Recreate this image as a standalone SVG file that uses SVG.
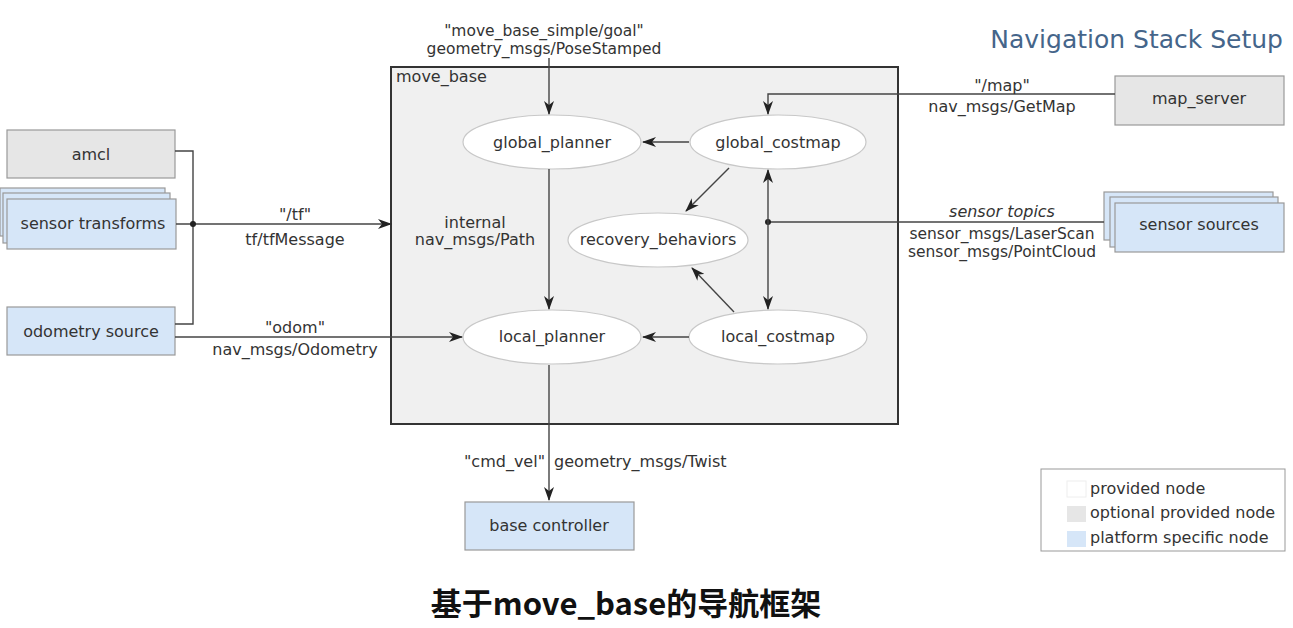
<svg xmlns="http://www.w3.org/2000/svg" width="1293" height="628" viewBox="0 0 1293 628">
<style>
text{font-family:"DejaVu Sans","Liberation Sans",sans-serif;font-size:16px;fill:#333}
.c{text-anchor:middle}
.s{font-size:15.5px}
.box{stroke:#999;stroke-width:1.2}
.opt{fill:#e6e6e6}
.plat{fill:#d6e6f8}
.ell{fill:#fff;stroke:#c8c8c8;stroke-width:1.2}
.ln{fill:none;stroke:#444;stroke-width:1.4}
.arr{marker-end:url(#ah)}
</style>
<defs>
<marker id="ah" markerUnits="userSpaceOnUse" markerWidth="14" markerHeight="10" viewBox="0 0 14 10" refX="13" refY="5" orient="auto">
<path d="M0,0 L14,5 L0,10 L4,5 z" fill="#222"/>
</marker>
</defs>
<rect width="1293" height="628" fill="#fff"/>
<text x="1283" y="48" style="font-size:25px;fill:#45658a;text-anchor:end">Navigation Stack Setup</text>

<g id="move_base">
<rect x="391" y="67" width="507" height="357" fill="#f0f0f0" stroke="#333" stroke-width="2"/>
<text x="396" y="82">move_base</text>
</g>

<g id="amcl">
<rect class="box opt" x="7" y="130" width="168" height="48"/>
<text class="c" x="91" y="160">amcl</text>
</g>
<g id="sensor_transforms">
<rect class="box plat" x="0" y="188" width="165" height="48"/>
<rect class="box plat" x="3" y="193" width="167" height="50"/>
<rect class="box plat" x="7" y="199" width="169" height="50"/>
<text class="c" x="93" y="229">sensor transforms</text>
</g>
<g id="odometry_source">
<rect class="box plat" x="7" y="307" width="168" height="48"/>
<text class="c" x="91" y="337">odometry source</text>
</g>
<g id="map_server">
<rect class="box opt" x="1115" y="76" width="169" height="49"/>
<text class="c" x="1199" y="104">map_server</text>
</g>
<g id="sensor_sources">
<rect class="box plat" x="1104" y="192" width="169" height="48"/>
<rect class="box plat" x="1110" y="197" width="168" height="50"/>
<rect class="box plat" x="1115" y="203" width="169" height="49"/>
<text class="c" x="1199" y="230">sensor sources</text>
</g>
<g id="base_controller">
<rect class="box plat" x="465" y="502" width="169" height="48"/>
<text class="c" x="549" y="531">base controller</text>
</g>

<g id="global_planner">
<ellipse class="ell" cx="552" cy="142" rx="89" ry="27"/>
<text class="c" x="552" y="148">global_planner</text>
</g>
<g id="global_costmap">
<ellipse class="ell" cx="778" cy="142" rx="88" ry="27"/>
<text class="c" x="778" y="148">global_costmap</text>
</g>
<g id="recovery_behaviors">
<ellipse class="ell" cx="658" cy="240" rx="90" ry="27"/>
<text class="c" x="658" y="245">recovery_behaviors</text>
</g>
<g id="local_planner">
<ellipse class="ell" cx="552" cy="337" rx="89" ry="27"/>
<text class="c" x="552" y="342">local_planner</text>
</g>
<g id="local_costmap">
<ellipse class="ell" cx="778" cy="337" rx="89" ry="27"/>
<text class="c" x="778" y="342">local_costmap</text>
</g>

<g id="connectors">
<polyline class="ln" points="175,151 193,151 193,324 175,324"/>
<line class="ln arr" x1="176" y1="224" x2="391" y2="224"/>
<circle cx="193" cy="224" r="3" fill="#222"/>
<line class="ln arr" x1="175" y1="337" x2="462" y2="337"/>
<line class="ln arr" x1="549" y1="58" x2="549" y2="114"/>
<line class="ln arr" x1="689" y1="142" x2="643" y2="142"/>
<line class="ln arr" x1="729" y1="168" x2="686" y2="211"/>
<line class="ln arr" x1="734" y1="312" x2="692" y2="268"/>
<line class="ln arr" x1="549" y1="169" x2="549" y2="309"/>
<line class="ln arr" x1="689" y1="337" x2="643" y2="337"/>
<line class="ln" x1="1104" y1="222" x2="768" y2="222"/>
<circle cx="768" cy="222" r="3" fill="#222"/>
<line class="ln arr" x1="768" y1="222" x2="768" y2="170"/>
<line class="ln arr" x1="768" y1="222" x2="768" y2="309"/>
<polyline class="ln arr" points="1115,94 768,94 768,114"/>
<line class="ln arr" x1="549" y1="365" x2="549" y2="500"/>
</g>

<g id="labels">
<text class="c s" x="544" y="36">"move_base_simple/goal"</text>
<text class="c s" x="544" y="54">geometry_msgs/PoseStamped</text>
<text class="c" x="295" y="220">"/tf"</text>
<text class="c" x="295" y="245">tf/tfMessage</text>
<text class="c" x="295" y="333">"odom"</text>
<text class="c" x="295" y="355">nav_msgs/Odometry</text>
<text class="c" x="475" y="228">internal</text>
<text class="c" x="475" y="245">nav_msgs/Path</text>
<text class="c" x="1002" y="91">"/map"</text>
<text class="c" x="1002" y="112">nav_msgs/GetMap</text>
<text class="c" x="1002" y="217" font-style="italic">sensor topics</text>
<text class="c s" x="1002" y="239">sensor_msgs/LaserScan</text>
<text class="c s" x="1002" y="257">sensor_msgs/PointCloud</text>
<text x="545" y="467" text-anchor="end">"cmd_vel"</text>
<text x="554" y="467">geometry_msgs/Twist</text>
</g>

<g id="legend">
<rect x="1041" y="469" width="244" height="82" fill="#fff" stroke="#999" stroke-width="1"/>
<rect x="1067" y="481" width="19" height="16" fill="#fff" stroke="#eee" stroke-width="1"/>
<rect x="1067" y="506" width="19" height="16" fill="#e6e6e6"/>
<rect x="1067" y="531" width="19" height="16" fill="#d6e6f8"/>
<text x="1090" y="494">provided node</text>
<text x="1090" y="518">optional provided node</text>
<text x="1090" y="543">platform specific node</text>
</g>

<text x="626" y="615" style="font-family:'Noto Sans CJK SC','Noto Sans',sans-serif;font-size:31px;font-weight:bold;fill:#111;text-anchor:middle">基于move_base的导航框架</text>
</svg>
